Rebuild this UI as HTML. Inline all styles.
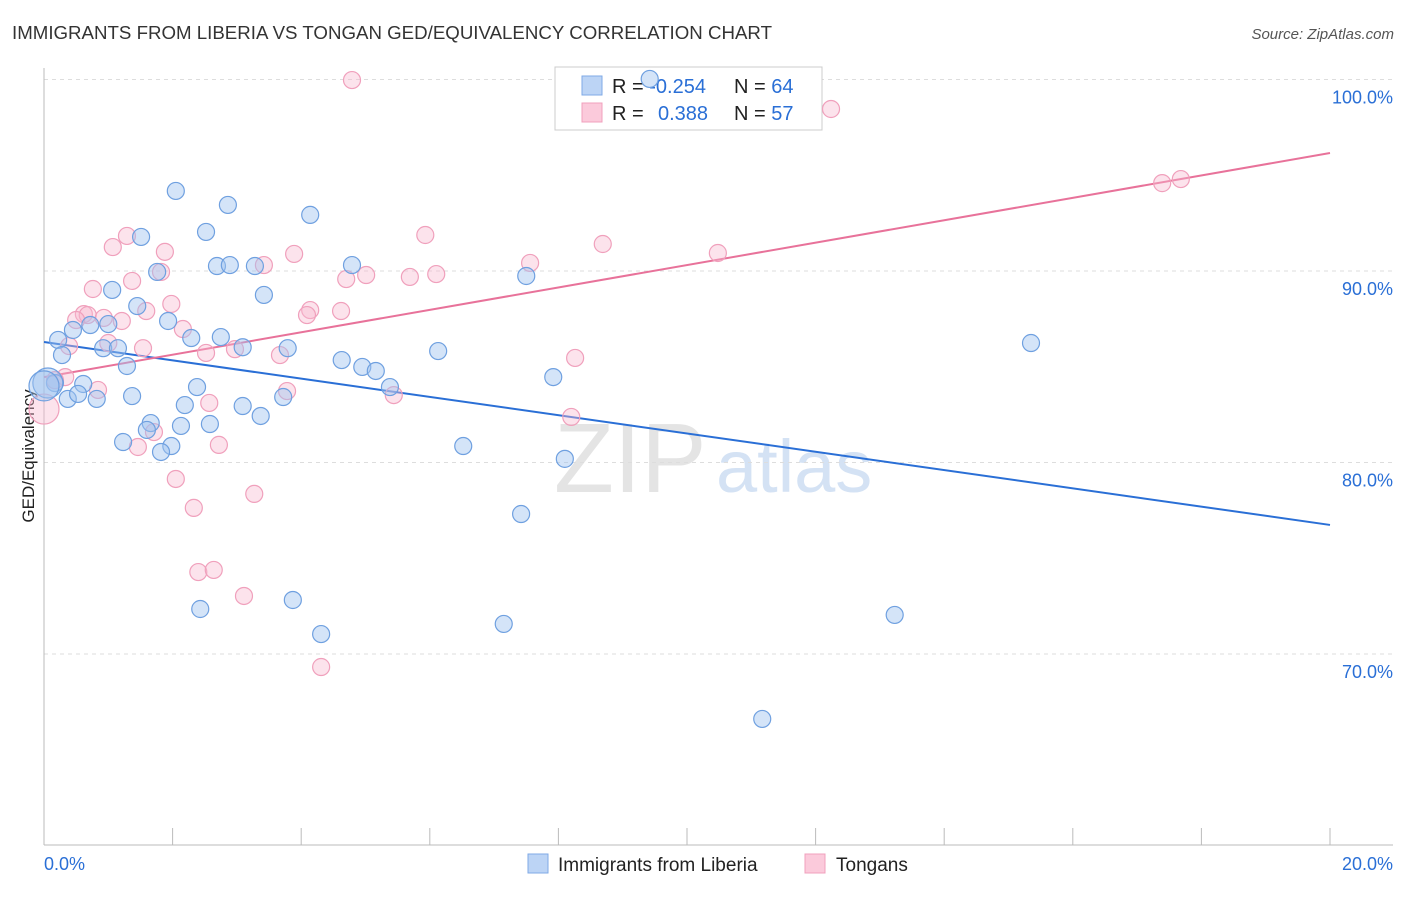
<!DOCTYPE html>
<html><head><meta charset="utf-8"><style>
body{margin:0;background:#fff;font-family:"Liberation Sans",sans-serif;}
svg text{font-family:"Liberation Sans",sans-serif;}
</style></head><body>
<svg id="chart" width="1406" height="892" xmlns="http://www.w3.org/2000/svg">
<text x="12" y="39" font-size="18" fill="#333" textLength="760" lengthAdjust="spacingAndGlyphs">IMMIGRANTS FROM LIBERIA VS TONGAN GED/EQUIVALENCY CORRELATION CHART</text>
<text x="1394" y="39" font-size="15" fill="#555" font-style="italic" text-anchor="end">Source: ZipAtlas.com</text>
<text transform="translate(34,456) rotate(-90)" font-size="17" fill="#222" text-anchor="middle">GED/Equivalency</text>
<text x="554" y="492" font-size="98" fill="#e4e4e4" font-family="Liberation Serif">ZIP</text>
<text x="716" y="492" font-size="74" fill="#d4e2f4">atlas</text>
<g id="grid"></g>
<g id="trend"></g>
<g>
<rect x="555" y="67" width="267" height="63" fill="#fff" stroke="#ccc"/>
<rect x="582" y="76" width="20" height="19" fill="#bcd4f5" stroke="#7faae6"/>
<rect x="582" y="103" width="20" height="19" fill="#fbcadb" stroke="#f0a0bc"/>
<text x="612" y="93" font-size="20" fill="#222">R = <tspan fill="#2a6fd6">-0.254</tspan></text>
<text x="734" y="93" font-size="20" fill="#222">N = <tspan fill="#2a6fd6">64</tspan></text>
<text x="612" y="120" font-size="20" fill="#222">R = <tspan fill="#2a6fd6" x="658">0.388</tspan></text>
<text x="734" y="120" font-size="20" fill="#222">N = <tspan fill="#2a6fd6">57</tspan></text>
</g>
<g id="pts"></g>
<g>
<rect x="528" y="854" width="20" height="19" fill="#bcd4f5" stroke="#7faae6"/>
<text x="558" y="871" font-size="19" fill="#222">Immigrants from Liberia</text>
<rect x="805" y="854" width="20" height="19" fill="#fbcadb" stroke="#f0a0bc"/>
<text x="836" y="871" font-size="19" fill="#222">Tongans</text>
</g>
</svg>
<script>
const yTicks=[70,80,90,100];
const xTickLabels=["0.0%","20.0%"];
const blueX=[2.05,2.86,4.14,2.52,1.51,2.69,2.89,3.28,4.79,1.76,7.50,3.42,1.06,1.45,1.93,0.72,1.00,0.45,0.22,2.29,2.75,3.09,3.79,0.92,1.15,0.28,6.13,4.63,4.95,5.16,1.29,7.92,5.38,0.17,0.61,2.38,0.37,0.82,0.53,1.37,3.72,3.09,2.19,3.37,1.66,2.58,1.60,2.13,1.23,1.98,1.82,6.52,8.10,7.42,15.35,2.43,3.87,4.31,7.15,13.23,11.17,9.42,0.06,0.0];
const blueY=[94.18,93.45,92.93,92.04,91.78,90.26,90.31,90.26,90.31,89.95,89.74,88.75,89.01,88.17,87.39,87.18,87.23,86.92,86.40,86.50,86.55,86.02,85.97,85.97,85.97,85.61,85.82,85.35,84.99,84.78,85.04,84.46,83.94,84.15,84.10,83.94,83.32,83.32,83.58,83.47,83.42,82.95,83.00,82.43,82.06,82.01,81.70,81.91,81.07,80.86,80.55,80.86,80.19,77.31,86.24,72.35,72.82,71.04,71.57,72.04,66.61,100.03,84.15,84.0];
const pinkX=[4.79,12.24,17.39,17.68,1.29,1.07,1.88,3.89,5.93,8.69,10.48,3.42,1.82,1.37,4.70,5.01,5.69,6.10,7.56,0.76,1.98,1.59,0.62,0.68,0.50,0.93,1.21,4.14,4.09,4.62,2.16,0.39,1.00,1.54,2.52,2.97,3.67,8.26,0.33,0.84,3.78,5.44,2.57,8.20,1.71,1.46,2.72,2.05,3.27,2.33,2.40,2.64,3.11,4.31,0.0,0.17];
const pinkY=[99.97,98.46,94.59,94.80,91.83,91.25,91.00,90.89,91.88,91.41,90.94,90.31,89.95,89.48,89.58,89.79,89.69,89.84,90.42,89.06,88.28,87.91,87.75,87.70,87.44,87.55,87.39,87.96,87.70,87.91,86.97,86.08,86.24,85.97,85.72,85.92,85.61,85.46,84.46,83.79,83.73,83.52,83.11,82.38,81.59,80.81,80.92,79.14,78.36,77.63,74.28,74.39,73.03,69.32,82.79,84.3];
const blueTrend=[86.29,76.74];
const pinkTrend=[84.46,96.16];
const NS="http://www.w3.org/2000/svg";
const X=v=>44+v/20*1286;
const Y=v=>79.5+(100-v)*19.15;
function mk(t,a,p){const e=document.createElementNS(NS,t);for(const k in a)e.setAttribute(k,a[k]);p.appendChild(e);return e;}
const grid=document.getElementById('grid');
yTicks.forEach(t=>{
 const l=mk('line',{x1:44,x2:1393,y1:Y(t),y2:Y(t),stroke:'#ddd','stroke-dasharray':'4,4'},grid);
 
 
 const tx=mk('text',{x:1393,y:Y(t)+24,'font-size':18,fill:'#2a6fd6','text-anchor':'end'},grid);
 tx.textContent=t.toFixed(1)+'%';
 
 
});
const ax=mk('line',{x1:44,x2:44,y1:68,y2:845,stroke:'#bbb'},grid);


const bx=mk('line',{x1:44,x2:1393,y1:845,y2:845,stroke:'#bbb'},grid);


for(let i=1;i<=10;i++){mk('line',{x1:X(i*2),x2:X(i*2),y1:828,y2:845,stroke:'#bbb'},grid);}
const xl0=mk('text',{x:44,y:870,'font-size':18,fill:'#2a6fd6'},grid);xl0.textContent=xTickLabels[0];


const xl1=mk('text',{x:1393,y:870,'font-size':18,fill:'#2a6fd6','text-anchor':'end'},grid);xl1.textContent=xTickLabels[1];


const pts=document.getElementById('pts');
function draw(xs,ys,fill,stroke,name){xs.forEach((x,i)=>{
 const big=(x<0.1&&i>=xs.length-2);
 const c=mk('circle',{cx:X(x),cy:Y(ys[i]),r:big?15:8.5,fill:fill,stroke:stroke,'stroke-width':1.2},pts);
 
 
});}
draw(pinkX,pinkY,'rgba(248,185,208,0.4)','#f0a0bc','tongans-point');
draw(blueX,blueY,'rgba(160,195,240,0.45)','#6fa0e0','liberia-point');
const tr=document.getElementById('trend');
const bl=mk('line',{x1:X(0),x2:X(20),y1:Y(blueTrend[0]),y2:Y(blueTrend[1]),stroke:'#2a6fd6','stroke-width':2},tr);


const pl=mk('line',{x1:X(0),x2:X(20),y1:Y(pinkTrend[0]),y2:Y(pinkTrend[1]),stroke:'#e8729a','stroke-width':2},tr);


</script>
</body></html>
